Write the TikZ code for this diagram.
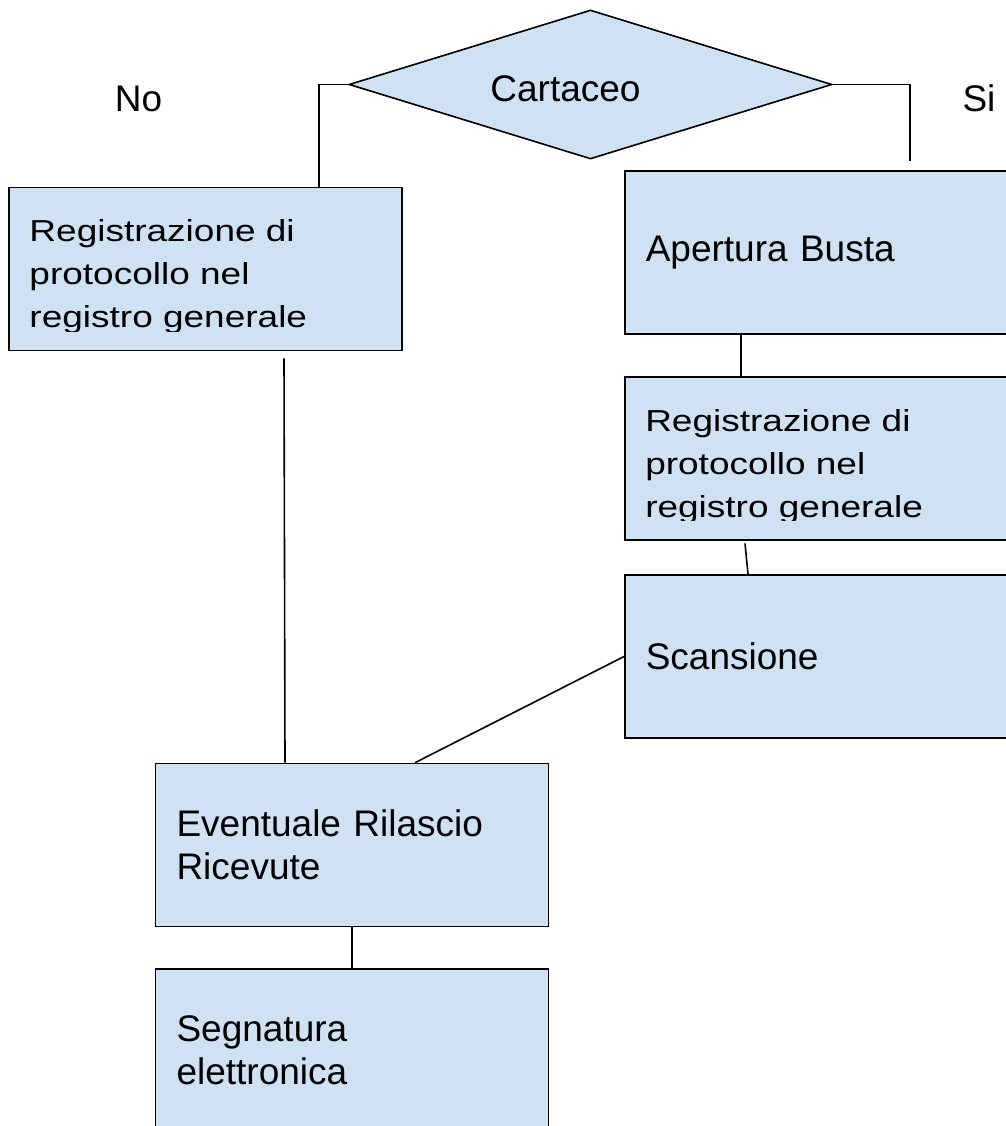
\documentclass[tikz,border=0pt]{standalone}
\usepackage{fontspec}
\setmainfont{Liberation Sans}
\usepackage{xcolor}
\usepackage{graphicx}
\usepackage{tikz}
\usetikzlibrary{shapes.geometric, positioning}
\definecolor{boxblue}{HTML}{CFE2F3}
\newcommand{\boxfont}{\fontsize{27.75pt}{32.25pt}\selectfont}
\newcommand{\squash}[1]{\scalebox{1}[0.82]{#1}}
\tikzstyle{stepbox} = [rectangle, minimum width=294.75pt, minimum height=122.25pt, text width=263.25pt, inner xsep=15.75pt, align=left, draw=black, fill=boxblue, line width=1.2pt, font=\boxfont]
\tikzstyle{cutbox} = [stepbox, anchor=west, text width=300pt]
\tikzstyle{decision} = [diamond, aspect=3.24, minimum width=362.25pt, minimum height=111.75pt, inner sep=0pt, draw=black, fill=boxblue, line width=1.2pt, font=\boxfont]
\tikzstyle{boxtext} = [anchor=north west, inner sep=0pt, align=left, font=\boxfont]
\tikzstyle{answer} = [anchor=base, inner sep=0pt, font=\boxfont]
\tikzstyle{link} = [line width=1.2pt]

\begin{document}
\begin{tikzpicture}[x=0.75pt, y=-0.75pt]
    \useasboundingbox (0,0) rectangle (1005,1126);
    % decision
    \node[decision] (cart) at (590.5,84.5) {\rule{0pt}{26pt}Cartaceo\hspace*{37.5pt}};
    \node[answer] (no) at (138.5,112) {No};
    \node[answer] (si) at (979,112) {Si};
    % left branch
    \node[stepbox] (regL) at (205.5,269) {};
    \node[stepbox] (event) at (352,845) {Eventuale Rilascio\\Ricevute};
    \node[stepbox] (segn) at (352,1050.5) {Segnatura\\elettronica};
    % right branch, boxes run past the right edge
    \node[cutbox] (apert) at (624,252.5) {Apertura Busta};
    \node[cutbox] (regR) at (624,458.5) {};
    \node[cutbox] (scan) at (624,656.5) {Scansione};
    % text cut at the bottom of the box
    \begin{scope}
        \clip ([yshift=15pt]regL.south west) rectangle (regL.north east);
        \node[boxtext] (regLtext) at ([xshift=15.75pt,yshift=-24.75pt]regL.north west) {\squash{Registrazione di}\\\squash{protocollo nel}\\\squash{registro generale}};
    \end{scope}
    \begin{scope}
        \clip ([yshift=15pt]regR.south west) rectangle (regR.north east);
        \node[boxtext] (regRtext) at ([xshift=15.75pt,yshift=-24.75pt]regR.north west) {\squash{Registrazione di}\\\squash{protocollo nel}\\\squash{registro generale}};
    \end{scope}
    % connectors
    \coordinate (siEnd) at (910,161);
    \draw[link] (cart.west) -| ([xshift=85.125pt]regL.north);
    \draw[link] (cart.east) -| (siEnd);
    \draw[link] ([xshift=87.75pt]apert.south west) -- ([xshift=87.75pt]regR.north west);
    \draw[link] ([xshift=90.75pt,yshift=-2pt]regR.south west) -- ([xshift=93pt]scan.north west);
    \draw[link] (scan.west) -- ([xshift=47.25pt]event.north);
    \draw[link] ([xshift=58.875pt,yshift=-5.25pt]regL.south) -- ([xshift=-50.25pt]event.north);
    \draw[link] (event.south) -- (segn.north);
\end{tikzpicture}
\end{document}
